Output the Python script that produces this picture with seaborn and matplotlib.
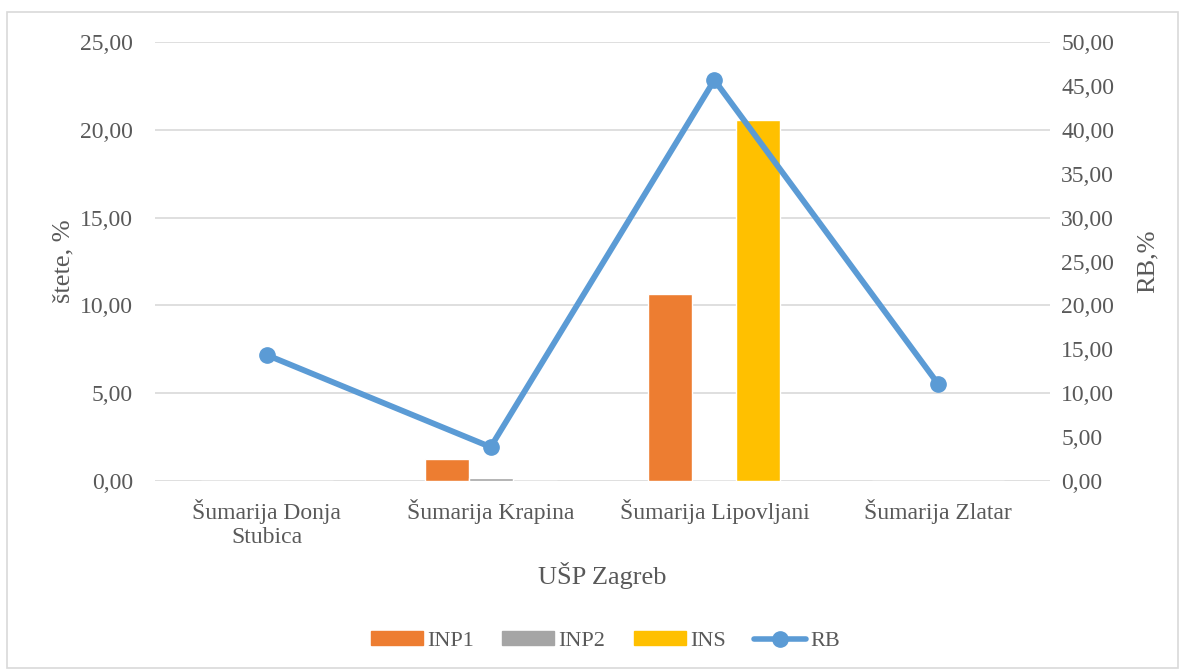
import pandas as pd
import matplotlib.pyplot as plt
import seaborn as sns
from matplotlib.patches import Rectangle
from matplotlib.lines import Line2D
from matplotlib.ticker import FuncFormatter, MultipleLocator

categories = ["Šumarija Donja\nStubica", "Šumarija Krapina", "Šumarija Lipovljani", "Šumarija Zlatar"]
inp1 = [0.0, 1.25, 10.65, 0.0]
inp2 = [0.0, 0.17, 0.0, 0.0]
ins = [0.0, 0.0, 20.56, 0.0]
rb = [14.35, 3.87, 45.67, 11.05]

bar_colors = {"INP1": "#ED7D31", "INP2": "#A5A5A5", "INS": "#FFC000"}
line_color = "#5B9BD5"
text_color = "#595959"
grid_color = "#D9D9D9"

df = pd.DataFrame({
    "kat": categories * 3,
    "serija": ["INP1"] * 4 + ["INP2"] * 4 + ["INS"] * 4,
    "vrijednost": inp1 + inp2 + ins,
})

sns.set_style("white")
plt.rcParams["font.family"] = ["Liberation Serif", "DejaVu Serif"]

fig = plt.figure(figsize=(11.85, 6.72), dpi=100, facecolor="white")
ax = fig.add_axes([0.1308, 0.2842, 0.7553, 0.6533])

sns.barplot(data=df, x="kat", y="vrijednost", hue="serija", palette=bar_colors,
            width=0.59, gap=0, dodge=True, saturation=1, ax=ax, legend=False, zorder=2)

ax.set_ylim(0, 25)
ax.set_xlim(-0.5, 3.5)
ax.yaxis.set_major_locator(MultipleLocator(5))
fmt = FuncFormatter(lambda v, p: f"{v:.2f}".replace(".", ","))
ax.yaxis.set_major_formatter(fmt)
ax.grid(axis="y", color=grid_color, linewidth=1.2, zorder=0)
ax.set_axisbelow(True)
for s in ax.spines.values():
    s.set_visible(False)
ax.tick_params(axis="both", length=0, labelsize=17, colors=text_color)
ax.tick_params(axis="y", pad=16)
ax.tick_params(axis="x", pad=13)
ax.set_xlabel("UŠP Zagreb", fontsize=19, color=text_color, labelpad=10)
ax.set_ylabel("štete, %", fontsize=19, color=text_color, labelpad=4)

ax2 = ax.twinx()
ax2.plot(range(len(categories)), rb, color=line_color, linewidth=4.2,
         marker="o", markersize=11, zorder=3)
ax2.set_ylim(0, 50)
ax2.yaxis.set_major_locator(MultipleLocator(5))
ax2.yaxis.set_major_formatter(fmt)
for s in ax2.spines.values():
    s.set_visible(False)
ax2.tick_params(axis="y", length=0, labelsize=17, colors=text_color, pad=8)
ax2.set_ylabel("RB,%", fontsize=19, color=text_color, labelpad=16)

fig.patches.append(Rectangle((7 / 1185, 4 / 672), 1171 / 1185, 656 / 672,
                             transform=fig.transFigure, fill=False,
                             edgecolor=grid_color, linewidth=1.2))

handles = [Rectangle((0, 0), 1, 1, color=bar_colors[k]) for k in ["INP1", "INP2", "INS"]]
handles.append(Line2D([0], [0], color=line_color, linewidth=4, marker="o", markersize=11))
leg = fig.legend(handles, ["INP1", "INP2", "INS", "RB"], loc="center",
                 bbox_to_anchor=(0.511, 0.046), ncol=4, frameon=False,
                 fontsize=16, handlelength=2.34, handleheight=0.54,
                 columnspacing=1.27, handletextpad=0.2)
for t in leg.get_texts():
    t.set_color(text_color)

fig.savefig("out.png", dpi=100, facecolor="white")
